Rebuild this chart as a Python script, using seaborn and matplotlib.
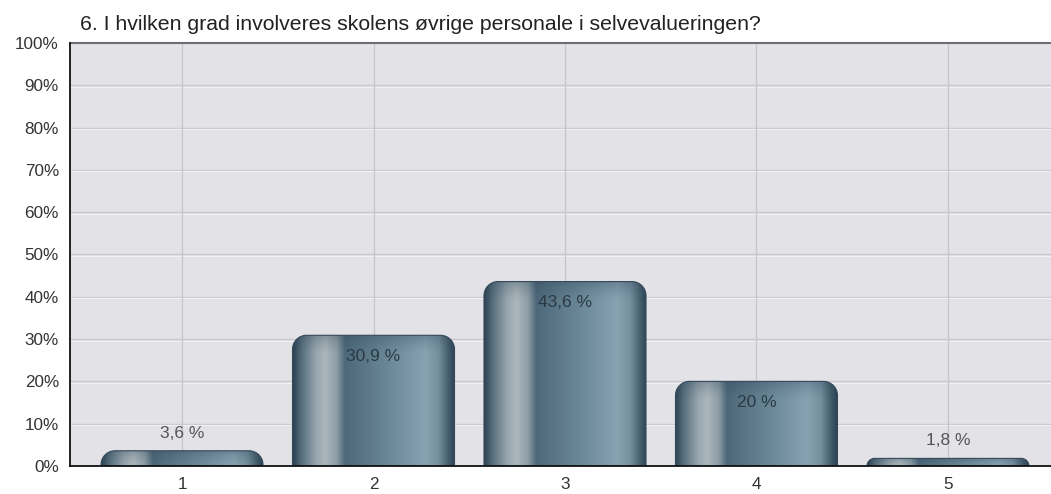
import numpy as np
import pandas as pd
import seaborn as sns
import matplotlib.pyplot as plt
from matplotlib.path import Path
from matplotlib.patches import PathPatch
from matplotlib.colors import LinearSegmentedColormap
from matplotlib.ticker import FuncFormatter

sns.set_style("white")
plt.rcParams['font.family'] = ['Liberation Sans', 'DejaVu Sans']

title = "6. I hvilken grad involveres skolens øvrige personale i selvevalueringen?"
categories = ['1', '2', '3', '4', '5']
values = [3.6, 30.9, 43.6, 20.0, 1.8]
value_labels = ['3,6 %', '30,9 %', '43,6 %', '20 %', '1,8 %']

df = pd.DataFrame({'svar': categories, 'andel': values})

fig = plt.figure(figsize=(10.51, 4.94), dpi=100)
ax = fig.add_axes([70 / 1051, 28 / 494, 1 - 70 / 1051, 423 / 494])
ax.set_facecolor('#e3e3e7')

sns.barplot(data=df, x='svar', y='andel', ax=ax, width=0.846, color='#5d7a8a',
            saturation=1, zorder=3)

ax.set_xlim(-0.585, 4.538)
ax.set_ylim(0, 100)
ax.set_yticks(np.arange(0, 101, 10))
ax.yaxis.set_major_formatter(FuncFormatter(lambda v, p: '{:.0f}%'.format(v)))

# grid
for yv in np.arange(10, 100, 10):
    ax.axhline(yv, color='#c9c9ce', lw=1, zorder=1)
    ax.axhline(yv - 0.35, color='#f2f2f4', lw=0.8, zorder=1)
for xv in range(len(categories)):
    ax.axvline(xv, color='#c6c6cf', lw=1, zorder=1)

# bar gradient
stops = [(0.0, '#2c4354'), (0.05, '#566d7c'), (0.14, '#97a6ae'), (0.2, '#abb7bb'),
         (0.27, '#8c9da6'), (0.32, '#4d687a'), (0.45, '#5c7888'), (0.65, '#728f9f'),
         (0.82, '#88a2b2'), (0.9, '#7690a0'), (0.96, '#46606f'), (1.0, '#2c4354')]
cmap = LinearSegmentedColormap.from_list('cyl', stops)
grad = np.linspace(0, 1, 256).reshape(1, -1)

px_x = 981 / (4.538 + 0.585)
px_y = 423 / 100
for patch in list(ax.patches):
    x0 = patch.get_x()
    w = patch.get_width()
    h = patch.get_height()
    patch.set_visible(False)
    r_px = min(14, h * px_y)
    rx = r_px / px_x
    ry = r_px / px_y
    x1 = x0 + w
    k = 0.5523
    verts = [(x0, 0), (x0, h - ry),
             (x0, h - ry + k * ry), (x0 + rx - k * rx, h), (x0 + rx, h),
             (x1 - rx, h),
             (x1 - rx + k * rx, h), (x1, h - ry + k * ry), (x1, h - ry),
             (x1, 0), (x0, 0)]
    codes = [Path.MOVETO, Path.LINETO,
             Path.CURVE4, Path.CURVE4, Path.CURVE4,
             Path.LINETO,
             Path.CURVE4, Path.CURVE4, Path.CURVE4,
             Path.LINETO, Path.CLOSEPOLY]
    shape = PathPatch(Path(verts, codes), facecolor='none', edgecolor='#34495a',
                      lw=0.8, zorder=4)
    ax.add_patch(shape)
    im = ax.imshow(grad, cmap=cmap, aspect='auto', extent=(x0, x1, 0, h),
                   zorder=3, interpolation='bicubic')
    im.set_clip_path(shape)
    # darker cap fading down from the top
    cap_h = min(20 / px_y, h)
    shade = np.zeros((64, 1, 4))
    shade[..., 0] = 0.17
    shade[..., 1] = 0.26
    shade[..., 2] = 0.33
    shade[:, 0, 3] = np.linspace(0.45, 0.0, 64) ** 1.5
    cap = ax.imshow(shade, aspect='auto', extent=(x0, x1, h - cap_h, h),
                    zorder=3.5, interpolation='bilinear', origin='upper')
    cap.set_clip_path(shape)

ax.set_aspect('auto')

for i, (v, lab) in enumerate(zip(values, value_labels)):
    if v > 10:
        ax.text(i, v - 4.9, lab, ha='center', va='center', fontsize=12.5,
                color='#2a3a45', zorder=6)
    else:
        ax.text(i, v + 4.2, lab, ha='center', va='center', fontsize=12.5,
                color='#555555', zorder=6)

ax.set_xlabel('')
ax.set_ylabel('')
ax.tick_params(axis='both', labelsize=12.3, colors='#111111', labelcolor='#333333',
               length=5, width=1.2, direction='out')
ax.tick_params(axis='x', pad=3)
ax.tick_params(axis='y', pad=3)

for s in ['left', 'bottom']:
    ax.spines[s].set_color('#111111')
    ax.spines[s].set_linewidth(1.3)
    ax.spines[s].set_zorder(7)
ax.spines['top'].set_color('#6e6e72')
ax.spines['top'].set_linewidth(1.5)
ax.spines['right'].set_visible(False)

fig.text(80 / 1051, 1 - 30 / 494, title, fontsize=15.3, color='#222222',
         ha='left', va='baseline')

fig.savefig('out.png', dpi=100)
